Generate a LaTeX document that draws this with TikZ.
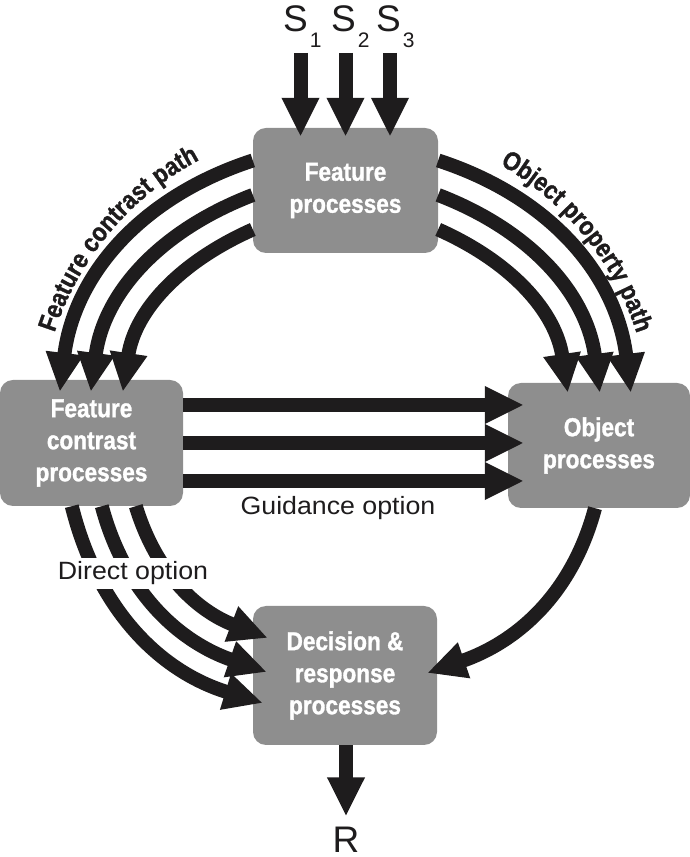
\documentclass[tikz,border=0pt]{standalone}
\usepackage{fontspec}
\setmainfont{Liberation Sans}
\newfontfamily\condfont{Liberation Sans}[FakeStretch=0.87, BoldFeatures={FakeBold=1.2}]
\newfontfamily\widefont{Liberation Sans}[FakeStretch=1.07]
\usetikzlibrary{arrows.meta,decorations.text,calc}
\definecolor{boxgray}{RGB}{142,142,142}
\definecolor{ink}{RGB}{30,28,29}
\newcommand\subnum[1]{\raisebox{-16pt}{\fontsize{21}{21}\selectfont #1}}
\begin{document}
\begin{tikzpicture}[x=1pt,y=1pt,
  box/.style={fill=boxgray, rounded corners=13pt, text=white, align=center, inner sep=0pt,
     font=\condfont\bfseries\fontsize{26}{32}\selectfont},
  bigarrow/.style={draw=ink, line width=14pt, -{Triangle[length=39pt,width=35pt]}},
  plain/.style={font=\widefont\fontsize{25}{30}\selectfont, inner sep=0pt, text=ink},
  sym/.style={font=\fontsize{37}{37}\selectfont, inner sep=0pt, text=ink},
  pathlabel/.style={decorate, decoration={text along path, text align=center, text color=ink}}]
\useasboundingbox (0,0) rectangle (690,857);

% boxes
\node[box, minimum width=185pt, minimum height=125pt] (fp) at (345.5,666.5) {Feature\\processes};
\node[box, minimum width=183pt, minimum height=126pt] (fc) at (91.5,414) {Feature\\contrast\\processes};
\node[box, minimum width=182pt, minimum height=125pt] (op) at (599,411.5) {Object\\processes};
\node[box, minimum width=184pt, minimum height=139pt] (dr) at (345,181.5) {Decision \&\\response\\processes};

% inputs and output
\node[sym, anchor=base west] (s1) at (283,825) {S\kern2pt\subnum{1}};
\node[sym, anchor=base west] (s2) at (331,825) {S\kern2pt\subnum{2}};
\node[sym, anchor=base west] (s3) at (376,825) {S\kern2pt\subnum{3}};
\node[sym, anchor=base] (R) at (346,5) {R};

\coordinate (a1) at (300.5,804);
\coordinate (a2) at (345.5,804);
\coordinate (a3) at (390,804);
\draw[bigarrow] (a1) -- ($(a1 |- fp.north)+(0,-9)$);
\draw[bigarrow] (a2) -- ($(a2 |- fp.north)+(0,-9)$);
\draw[bigarrow] (a3) -- ($(a3 |- fp.north)+(0,-9)$);

% feature contrast path
\draw[bigarrow] ($(fp.west)+(0,30)$) to[out=198,in=83] ($(fc.north west)+(60,-12)$);
\draw[bigarrow] ($(fp.west)+(0,-4.5)$) to[out=201,in=82.5] ($(fc.north west)+(91,-12)$);
\draw[bigarrow] ($(fp.west)+(0,-39)$) to[out=204,in=81.5] ($(fc.north west)+(123,-12)$);

% object property path
\draw[bigarrow] ($(fp.east)+(0,30)$) to[out=342,in=97] ($(op.north west)+(123,-10)$);
\draw[bigarrow] ($(fp.east)+(0,-4.5)$) to[out=339,in=97.5] ($(op.north west)+(92,-10)$);
\draw[bigarrow] ($(fp.east)+(0,-39)$) to[out=336,in=98.5] ($(op.north west)+(60,-10)$);

% guidance option
\draw[bigarrow] ($(fc.east)+(0,38)$) -- ($(op.west)+(16,40.5)$);
\draw[bigarrow] (fc.east) -- ($(op.west)+(16,2.5)$);
\draw[bigarrow] ($(fc.east)+(0,-38)$) -- ($(op.west)+(16,-35.5)$);

% direct option
\draw[bigarrow] ($(fc.south west)+(72,0)$) to[out=284,in=163] ($(dr.west)+(10,-27.5)$);
\draw[bigarrow] ($(fc.south west)+(102,0)$) to[out=285,in=161] ($(dr.west)+(14,3.5)$);
\draw[bigarrow] ($(fc.south west)+(136,0)$) to[out=287,in=159] ($(dr.west)+(15,37.5)$);

% object to decision
\draw[bigarrow] ($(op.south)+(-4,0)$) to[out=255,in=19] ($(dr.east)+(-10,2.5)$);

% output
\draw[bigarrow] ($(dr.south)+(1,0)$) -- ($(R.north)+(0,10)$);

% labels
\node[plain, anchor=base] (guid) at (338,342) {Guidance option};
\node[plain, anchor=base, fill=white, inner sep=4pt] (direct) at (133,277) {Direct option};

\path[pathlabel, decoration={text={|\condfont\bfseries\fontsize{26}{26}\selectfont|Feature contrast path}}]
  ([shift={(172:300)}]340,432) arc[start angle=172, end angle=108, radius=300];
\path[pathlabel, decoration={text={|\condfont\bfseries\fontsize{26}{26}\selectfont|Object property path}}]
  ([shift={(71:300)}]351,432) arc[start angle=71, end angle=7, radius=300];
\end{tikzpicture}
\end{document}
